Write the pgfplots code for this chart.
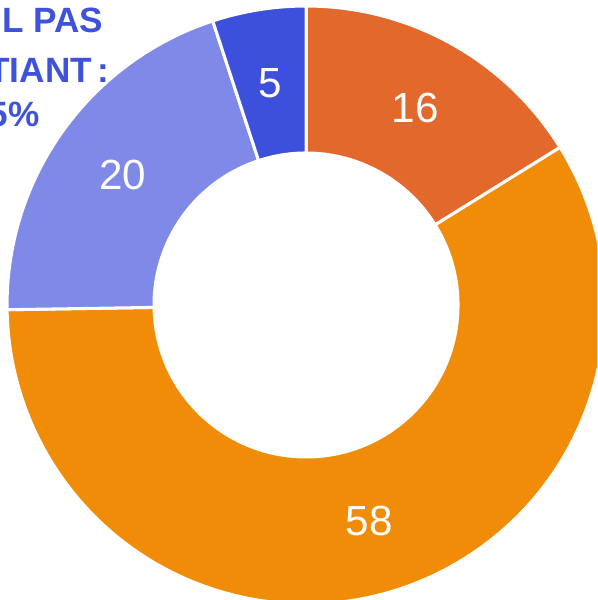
\documentclass[border=0pt]{standalone}
\usepackage{pgfplots}
\pgfplotsset{compat=1.18}
\usepackage{fontspec}
\setmainfont{Liberation Sans}
\definecolor{colA}{HTML}{E3682C}
\definecolor{colB}{HTML}{F08C08}
\definecolor{colC}{HTML}{7E89E8}
\definecolor{colD}{HTML}{3D50DB}
\definecolor{txtblue}{HTML}{3F52DB}
% values of the slices (clockwise from 12 o'clock)
\def\vA{16}\def\vB{58}\def\vC{20}\def\vD{5}
\def\Ro{4.485cm}
\def\Ri{2.28cm}
\newcommand\donutpart[3]{%
  \filldraw[fill=#3, draw=white, line width=1.3pt]
    (axis cs:0,0) ++({90-#1}:\Ro) arc[start angle={90-#1}, end angle={90-#2}, radius=\Ro]
    -- ([shift={({90-#2}:\Ri)}]axis cs:0,0)
    arc[start angle={90-#2}, end angle={90-#1}, radius=\Ri] -- cycle;}
\begin{document}
\begin{tikzpicture}
\pgfmathsetmacro\tot{\vA+\vB+\vC+\vD}
\pgfmathsetmacro\unitang{360/\tot}
\pgfmathsetmacro\bA{\unitang*\vA}
\pgfmathsetmacro\bB{\unitang*(\vA+\vB)}
\pgfmathsetmacro\bC{\unitang*(\vA+\vB+\vC)}
\pgfmathsetmacro\mA{\bA/2}
\pgfmathsetmacro\mB{(\bA+\bB)/2}
\pgfmathsetmacro\mC{(\bB+\bC)/2}
\pgfmathsetmacro\mD{(\bC+360)/2}
\begin{axis}[hide axis, x=4.47cm, y=4.47cm,
  xmin=-1.027, xmax=0.977, ymin=-0.990, ymax=1.0235, clip=true]
\addplot[draw=none] coordinates {(0,0)};
\donutpart{0}{\bA}{colA}
\donutpart{\bA}{\bB}{colB}
\donutpart{\bB}{\bC}{colC}
\donutpart{\bC}{360}{colD}
\node[white, font=\fontsize{18}{20}\selectfont] at (axis cs:{0.755*sin(\mA)},{0.755*cos(\mA)}) {\vA};
\node[white, font=\fontsize{18}{20}\selectfont] at (axis cs:{0.755*sin(\mB)},{0.755*cos(\mB)}) {\vB};
\node[white, font=\fontsize{18}{20}\selectfont] at (axis cs:{0.755*sin(\mC)},{0.755*cos(\mC)}) {\vC};
\node[white, font=\fontsize{18}{20}\selectfont] at (axis cs:{0.755*sin(\mD)},{0.755*cos(\mD)}) {\vD};
\node[anchor=base east, inner sep=0pt, text=txtblue, font=\bfseries\fontsize{15}{18}\selectfont] at (axis cs:-0.680,0.913) {L PAS};
\node[anchor=base east, inner sep=0pt, text=txtblue, font=\bfseries\fontsize{15}{18}\selectfont] at (axis cs:-0.660,0.748) {TIANT\hspace{0.15em}:};
\node[anchor=base east, inner sep=0pt, text=txtblue, font=\bfseries\fontsize{15}{18}\selectfont] at (axis cs:-0.893,0.600) {5\%};
\end{axis}
\pgfresetboundingbox
\useasboundingbox (current axis.south west) rectangle (current axis.north east);
\end{tikzpicture}
\end{document}
